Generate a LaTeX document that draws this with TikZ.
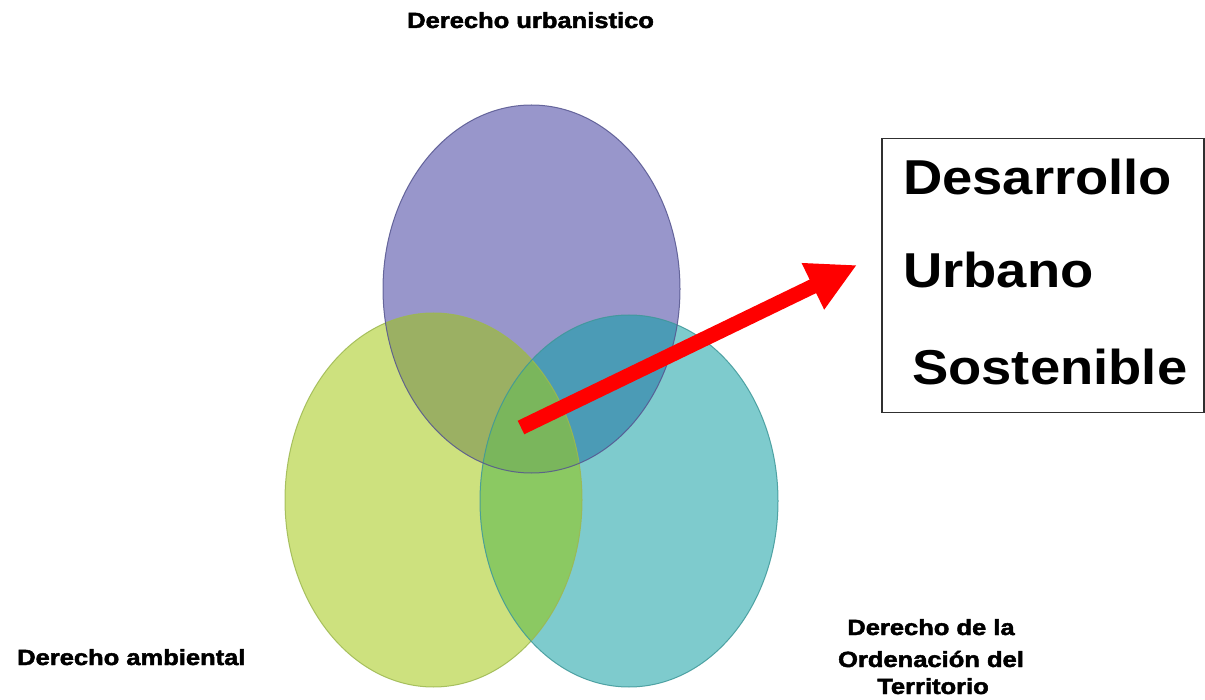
\documentclass[tikz,border=0pt]{standalone}
\usepackage{fontspec}
\setmainfont{Liberation Sans}
\newfontfamily\heavyfont[FakeBold=2]{Liberation Sans}
\usetikzlibrary{arrows.meta}
\definecolor{topc}{HTML}{9896CB}
\definecolor{leftc}{HTML}{CDE17E}
\definecolor{rightc}{HTML}{7ECBCD}
\definecolor{tlc}{HTML}{9BB063}
\definecolor{trc}{HTML}{4B9BB6}
\definecolor{lrc}{HTML}{8BC962}
\definecolor{allc}{HTML}{7AB65C}
\definecolor{topline}{HTML}{55558F}
\definecolor{leftline}{HTML}{9DB850}
\definecolor{rightline}{HTML}{3E9899}
\definecolor{boxc}{HTML}{303030}
\tikzset{
  lbl/.style={inner sep=0pt, font=\fontsize{22pt}{26pt}\heavyfont\bfseries},
  big/.style={inner sep=0pt, anchor=base west, font=\fontsize{49pt}{55pt}\selectfont\bfseries},
  outl/.style={line width=1pt, draw opacity=0.85}
}
\begin{document}
\begin{tikzpicture}[x=1pt,y=-1pt]
\useasboundingbox[fill=white] (0,0) rectangle (1205,700);
\coordinate (T) at (531.5,289);
\coordinate (L) at (433.5,500);
\coordinate (R) at (629,501);
% base fills
\fill[leftc] (L) ellipse [x radius=148.5pt, y radius=187pt];
\fill[rightc] (R) ellipse [x radius=149pt, y radius=186pt];
\fill[topc] (T) ellipse [x radius=148.5pt, y radius=184pt];
% overlaps
\begin{scope}
  \clip (T) ellipse [x radius=148.5pt, y radius=184pt];
  \fill[tlc] (L) ellipse [x radius=148.5pt, y radius=187pt];
\end{scope}
\begin{scope}
  \clip (T) ellipse [x radius=148.5pt, y radius=184pt];
  \fill[trc] (R) ellipse [x radius=149pt, y radius=186pt];
\end{scope}
\begin{scope}
  \clip (L) ellipse [x radius=148.5pt, y radius=187pt];
  \fill[lrc] (R) ellipse [x radius=149pt, y radius=186pt];
\end{scope}
\begin{scope}
  \clip (T) ellipse [x radius=148.5pt, y radius=184pt];
  \clip (L) ellipse [x radius=148.5pt, y radius=187pt];
  \fill[allc] (R) ellipse [x radius=149pt, y radius=186pt];
\end{scope}
% outlines
\draw[outl, leftline] (L) ellipse [x radius=148.5pt, y radius=187pt];
\draw[outl, rightline] (R) ellipse [x radius=149pt, y radius=186pt];
\draw[outl, topline] (T) ellipse [x radius=148.5pt, y radius=184pt];
% box
\node[draw=boxc, line width=1.5pt, minimum width=322pt, minimum height=274pt, anchor=north west, inner sep=0pt] (box) at (881,138) {};
\node[big] (t1) at (903,195) {\scalebox{1.11}[1]{Desarrollo}};
\node[big] (t2) at (903,288) {\scalebox{1.11}[1]{Urbano}};
\node[big] (t3) at (912,385) {\scalebox{1.11}[1]{Sostenible}};
% arrow
\coordinate (tail) at (521,427.5);
\coordinate (tip) at (857,265);
\draw[red, line width=15pt, -{Triangle[width=48pt,length=49pt]}] (tail) -- (tip);
% labels
\node[lbl, anchor=base west] (urb) at (407,28) {\scalebox{1.16}[1]{Derecho urbanistico}};
\node[lbl, anchor=base west] (amb) at (17,665) {\scalebox{1.16}[1]{Derecho ambiental}};
\node[lbl, anchor=base] (ot1) at (931,635) {\scalebox{1.16}[1]{Derecho de la}};
\node[lbl, anchor=base] (ot2) at (931,667) {\scalebox{1.16}[1]{Ordenación del}};
\node[lbl, anchor=base] (ot3) at (933,694) {\scalebox{1.16}[1]{Territorio}};
\end{tikzpicture}
\end{document}
